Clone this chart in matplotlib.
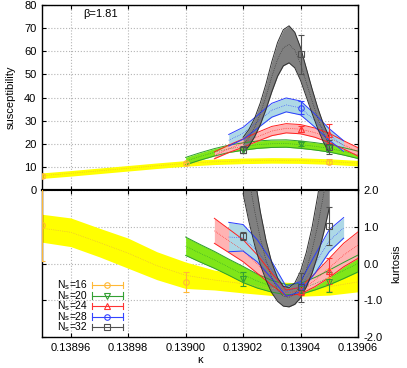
import matplotlib
matplotlib.use("Agg")
import matplotlib.pyplot as plt
from matplotlib.ticker import FormatStrFormatter
import numpy as np

plt.rcParams['font.family'] = ['Liberation Sans', 'DejaVu Sans']
plt.rcParams['font.size'] = 8

# fit bands: kappa grids
k16 = [0.13895, 0.13896, 0.13897, 0.13898, 0.13899, 0.13900, 0.13901, 0.13902, 0.13903, 0.13904, 0.13905, 0.13906]
k20 = [0.13900, 0.139005, 0.13901, 0.139015, 0.13902, 0.139025, 0.13903, 0.139035, 0.13904, 0.139045, 0.13905, 0.139055, 0.13906]
k24 = [0.13901, 0.139015, 0.13902, 0.139025, 0.13903, 0.139035, 0.13904, 0.139045, 0.13905, 0.139055, 0.13906]
k28 = [0.139015, 0.13902, 0.139025, 0.13903, 0.139035, 0.13904, 0.139045, 0.13905, 0.139055]
k32 = [0.13902, 0.139022, 0.139024, 0.139026, 0.139028, 0.13903, 0.139032, 0.139034, 0.139036, 0.139038, 0.13904, 0.139042, 0.139044, 0.139046, 0.139048, 0.13905]

# susceptibility bands (centre, half width)
chi16 = [6.2, 7.2, 8.3, 9.4, 10.5, 11.5, 12.2, 12.6, 12.8, 12.7, 12.3, 11.6]
chi16_w = [1.2, 1.2, 1.2, 1.2, 1.2, 1.2, 1.2, 1.2, 1.2, 1.2, 1.2, 1.2]
chi20 = [12.5, 14.5, 16.3, 17.8, 18.8, 19.6, 20.0, 20.1, 19.6, 18.9, 18.0, 16.7, 15.2]
chi20_w = [1.6, 1.6, 1.6, 1.6, 1.6, 1.6, 1.6, 1.6, 1.6, 1.6, 1.6, 1.6, 1.6]
chi24 = [15.0, 17.8, 20.3, 23.0, 25.5, 26.7, 26.3, 24.8, 22.5, 19.5, 16.5]
chi24_w = [1.5, 1.6, 1.8, 1.9, 2.0, 2.0, 2.0, 2.0, 2.0, 1.8, 1.8]
chi28 = [21.5, 24.5, 29.5, 34.5, 36.8, 35.5, 30.0, 24.0, 19.0]
chi28_w = [2.5, 2.6, 2.8, 3.0, 3.0, 3.0, 2.8, 2.5, 2.3]
chi32 = [19.5, 22.5, 27.0, 33.0, 40.5, 49.0, 56.5, 61.5, 63.0, 60.5, 54.5, 46.5, 38.5, 31.0, 24.5, 19.5]
chi32_w = [3.3, 3.6, 4.0, 4.7, 5.5, 6.5, 7.3, 7.8, 8.0, 7.7, 7.1, 6.2, 5.3, 4.5, 3.9, 3.4]

# kurtosis bands (centre, half width)
kur16 = [0.96, 0.85, 0.57, 0.28, -0.06, -0.32, -0.45, -0.55, -0.68, -0.71, -0.63, -0.5]
kur16_w = [0.38, 0.39, 0.39, 0.41, 0.38, 0.36, 0.27, 0.25, 0.19, 0.18, 0.23, 0.27]
kur20 = [0.47, 0.28, 0.1, -0.1, -0.3, -0.48, -0.62, -0.71, -0.69, -0.55, -0.38, -0.19, 0.0]
kur20_w = [0.25, 0.24, 0.23, 0.22, 0.22, 0.19, 0.16, 0.14, 0.15, 0.17, 0.2, 0.22, 0.23]
kur24 = [0.89, 0.62, 0.35, -0.02, -0.43, -0.8, -0.74, -0.45, -0.12, 0.23, 0.5]
kur24_w = [0.34, 0.32, 0.3, 0.25, 0.16, 0.08, 0.09, 0.18, 0.26, 0.32, 0.36]
kur28 = [0.72, 0.7, 0.34, -0.18, -0.76, -0.63, -0.02, 0.62, 0.97]
kur28_w = [0.4, 0.36, 0.3, 0.23, 0.13, 0.14, 0.25, 0.3, 0.28]
kur32 = [3.37, 2.33, 1.44, 0.69, 0.08, -0.39, -0.71, -0.89, -0.92, -0.82, -0.57, -0.17, 0.36, 1.04, 1.87, 2.83]
kur32_w = [1.47, 1.18, 0.93, 0.72, 0.54, 0.41, 0.32, 0.27, 0.26, 0.29, 0.36, 0.47, 0.62, 0.81, 1.05, 1.32]

# measured points
p16_k = [0.13895, 0.13900, 0.13905]
p16_chi = [6.0, 11.5, 12.2]
p16_chi_e = [0.8, 0.8, 1.0]
p16_kur = [1.05, -0.5, -0.45]
p16_kur_e = [0.97, 0.27, 0.3]
p20_k = [0.13902, 0.13904, 0.13905]
p20_chi = [17.3, 19.8, 18.3]
p20_chi_e = [1.5, 0.8, 2.0]
p20_kur = [-0.42, -0.7, -0.51]
p20_kur_e = [0.2, 0.1, 0.27]
p24_k = [0.13904, 0.13905]
p24_chi = [26.3, 24.3]
p24_chi_e = [1.3, 4.1]
p24_kur = [-0.75, -0.2]
p24_kur_e = [0.1, 0.36]
p28_k = [0.13904]
p28_chi = [35.5]
p28_chi_e = [2.8]
p28_kur = [-0.63]
p28_kur_e = [0.1]
p32_k = [0.13902, 0.13904, 0.13905]
p32_chi = [17.5, 58.6, 18.6]
p32_chi_e = [1.5, 8.3, 3.2]
p32_kur = [0.75, -0.65, 1.03]
p32_kur_e = [0.1, 0.4, 0.52]

labels = ['16', '20', '24', '28', '32']
fills = ['#ffff00', '#7fe619', '#ffb3b3', '#add8e6', '#808080']
edges = ['#ffee00', '#2e9e2e', '#ff2020', '#2a3cff', '#303030']
pcols = ['#ffb836', '#33a033', '#ff3333', '#3344ff', '#505050']
marks = ['o', 'v', '^', 'o', 's']

kgrid = [k16, k20, k24, k28, k32]
chi_c = [chi16, chi20, chi24, chi28, chi32]
chi_w = [chi16_w, chi20_w, chi24_w, chi28_w, chi32_w]
kur_c = [kur16, kur20, kur24, kur28, kur32]
kur_w = [kur16_w, kur20_w, kur24_w, kur28_w, kur32_w]
pk = [p16_k, p20_k, p24_k, p28_k, p32_k]
pchi = [(p16_chi, p16_chi_e), (p20_chi, p20_chi_e), (p24_chi, p24_chi_e), (p28_chi, p28_chi_e), (p32_chi, p32_chi_e)]
pkur = [(p16_kur, p16_kur_e), (p20_kur, p20_kur_e), (p24_kur, p24_kur_e), (p28_kur, p28_kur_e), (p32_kur, p32_kur_e)]

fig = plt.figure(figsize=(4.07, 3.68), dpi=100)
ax1 = fig.add_axes([0.1032, 0.4837, 0.7764, 0.5027])
ax2 = fig.add_axes([0.1032, 0.0842, 0.7764, 0.3995])


def bands(ax, cs, ws):
    for i in range(5):
        k = np.array(kgrid[i])
        c = np.array(cs[i])
        w = np.array(ws[i])
        ax.fill_between(k, c - w, c + w, color=fills[i], lw=0, zorder=2 + i * 0.1)
    for i in range(5):
        k = np.array(kgrid[i])
        c = np.array(cs[i])
        w = np.array(ws[i])
        if i == 0:
            ax.plot(k, c, color='#e8b040', lw=0.5, ls=':', zorder=3)
            continue
        ax.plot(k, c + w, color=edges[i], lw=0.7, zorder=3)
        ax.plot(k, c - w, color=edges[i], lw=0.7, zorder=3)
        ax.plot(k, c, color=edges[i], lw=0.5, ls=':', zorder=3)


def points(ax, data):
    for i in range(5):
        ax.errorbar(pk[i], data[i][0], yerr=data[i][1], fmt=marks[i], ms=4,
                    mfc='none', mec=pcols[i], ecolor=pcols[i], mew=0.8,
                    elinewidth=0.8, capsize=2, capthick=0.8, zorder=5)


bands(ax1, chi_c, chi_w)
points(ax1, pchi)
bands(ax2, kur_c, kur_w)
points(ax2, pkur)

xt = [0.13896, 0.13898, 0.13900, 0.13902, 0.13904, 0.13906]
for ax in (ax1, ax2):
    ax.set_xlim(0.13895, 0.13906)
    ax.set_xticks(xt)
    ax.grid(True, color='#b4b4b4', ls=':', lw=0.8)
    ax.set_axisbelow(True)
    ax.tick_params(direction='in', length=3, width=0.8, top=True, right=True, left=True)
    for s in ax.spines.values():
        s.set_linewidth(1.0)

ax1.set_ylim(0, 80)
ax1.set_yticks(range(0, 81, 10))
ax1.tick_params(labelbottom=False, pad=4)
ax1.set_ylabel('susceptibility', labelpad=6)
ax1.spines['bottom'].set_linewidth(1.5)
ax1.text(0.13, 0.935, 'β=1.81', transform=ax1.transAxes)

ax2.set_ylim(-2, 2)
ax2.set_yticks([-2, -1, 0, 1, 2])
ax2.yaxis.set_major_formatter(FormatStrFormatter('%.1f'))
ax2.tick_params(labelleft=False, labelright=True, pad=4)
ax2.xaxis.set_major_formatter(FormatStrFormatter('%.5f'))
ax2.spines['top'].set_linewidth(1.5)
ax2.yaxis.set_label_position('right')
ax2.set_ylabel('kurtosis', labelpad=6)
ax2.set_xlabel('κ', labelpad=2)

# legend drawn in gnuplot style: N, subscript s, =value
ly = [0.354, 0.282, 0.211, 0.139, 0.068]
tr = ax2.transAxes
for i in range(5):
    ax2.text(0.0475, ly[i], 'N', transform=tr, ha='left', va='center', fontsize=7.5, zorder=6)
    ax2.text(0.0735, ly[i] - 0.014, 's', transform=tr, ha='left', va='center', fontsize=5.5, zorder=6)
    ax2.text(0.0875, ly[i], '=' + labels[i], transform=tr, ha='left', va='center', fontsize=7.5, zorder=6)
    ax2.plot([0.158, 0.256], [ly[i], ly[i]], color=pcols[i], lw=0.8, transform=tr, zorder=6)
    ax2.plot([0.158, 0.158], [ly[i] - 0.022, ly[i] + 0.022], color=pcols[i], lw=0.8, transform=tr, zorder=6)
    ax2.plot([0.256, 0.256], [ly[i] - 0.022, ly[i] + 0.022], color=pcols[i], lw=0.8, transform=tr, zorder=6)
    ax2.plot([0.207], [ly[i]], marker=marks[i], ms=4, mfc='none', mec=pcols[i], mew=0.8, transform=tr, zorder=6)

fig.savefig('out.png', dpi=100)
